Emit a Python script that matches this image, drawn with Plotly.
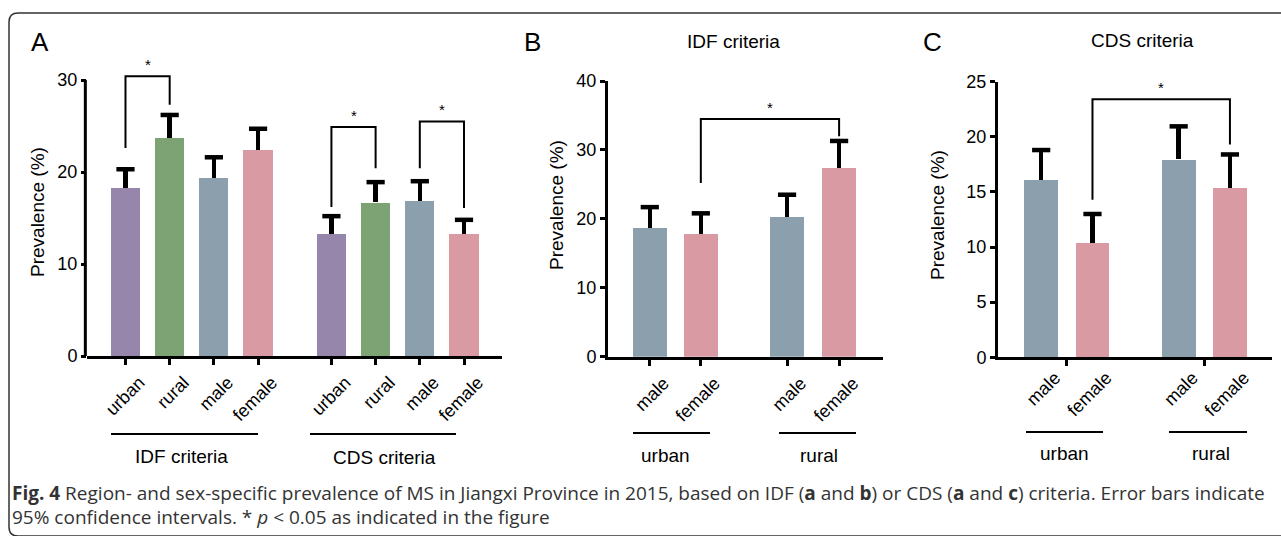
import plotly.graph_objects as go

W, H = 1281, 536

# ---------------- data ----------------
a_categories = ["urban", "rural", "male", "female", "urban", "rural", "male", "female"]
a_positions = [0, 1, 2, 3, 4.66, 5.66, 6.66, 7.66]
a_values = [18.3, 23.7, 19.4, 22.4, 13.3, 16.7, 16.9, 13.3]
a_errors = [2.0, 2.5, 2.2, 2.3, 1.9, 2.2, 2.1, 1.5]
a_groups = ["IDF criteria", "CDS criteria"]

b_categories = ["male", "female", "male", "female"]
b_positions = [0, 1, 2.69, 3.71]
b_values = [18.7, 17.8, 20.3, 27.4]
b_errors = [3.0, 3.0, 3.2, 3.9]

c_categories = ["male", "female", "male", "female"]
c_positions = [0, 1, 2.68, 3.68]
c_values = [16.1, 10.4, 17.95, 15.4]
c_errors = [2.7, 2.6, 3.0, 3.0]
c_group_ticks = [0.5, 3.18]

bc_groups = ["urban", "rural"]

# significance brackets: (left bar index, right bar index, left end y, top y, right end y)
a_brackets = [(0, 1, 22.6, 30.4, 27.3), (4, 5, 16.2, 24.9, 20.4), (6, 7, 20.4, 25.5, 16.1)]
b_brackets = [(1, 3, 25.2, 34.5, 32.0)]
c_brackets = [(1, 3, 14.3, 23.4, 19.3)]

PURPLE = "#9786AC"
GREEN = "#7DA375"
BLUE = "#8BA0AC"
PINK = "#DA9AA4"
a_colors = [PURPLE, GREEN, BLUE, PINK] * 2
bc_colors = [BLUE, PINK] * 2

FONT = "Liberation Sans, Arial, sans-serif"
CAP_FONT = "Open Sans, sans-serif"


def px(x):
    return x / W


def py(y):
    return 1 - y / H


fig = go.Figure()

panels = [
    dict(xa="x", ya="y", pos=a_positions, vals=a_values, errs=a_errors, cols=a_colors, br=a_brackets),
    dict(xa="x2", ya="y2", pos=b_positions, vals=b_values, errs=b_errors, cols=bc_colors, br=b_brackets),
    dict(xa="x3", ya="y3", pos=c_positions, vals=c_values, errs=c_errors, cols=bc_colors, br=c_brackets),
]

annotations = []
shapes = []

for p in panels:
    fig.add_trace(go.Bar(
        x=p["pos"], y=p["vals"], width=0.66,
        marker=dict(color=p["cols"], line=dict(width=0)),
        error_y=dict(type="data", symmetric=False, array=p["errs"],
                     arrayminus=[0] * len(p["errs"]), color="black",
                     thickness=4.5, width=0),
        xaxis=p["xa"], yaxis=p["ya"], showlegend=False, hoverinfo="skip",
    ))
    # caps of the one-sided error bars
    fig.add_trace(go.Scatter(
        x=p["pos"], y=[v + e for v, e in zip(p["vals"], p["errs"])], mode="markers",
        marker=dict(symbol="line-ew", size=13, color="black",
                    line=dict(color="black", width=4.5)),
        xaxis=p["xa"], yaxis=p["ya"], showlegend=False, hoverinfo="skip", cliponaxis=False,
    ))
    for (i0, i1, yl, yt, yr) in p["br"]:
        x0 = p["pos"][i0]
        x1 = p["pos"][i1]
        fig.add_trace(go.Scatter(
            x=[x0, x0, x1, x1], y=[yl, yt, yt, yr], mode="lines",
            line=dict(color="black", width=2), xaxis=p["xa"], yaxis=p["ya"],
            showlegend=False, hoverinfo="skip", cliponaxis=False,
        ))
        annotations.append(dict(x=(x0 + x1) / 2, y=yt, xref=p["xa"], yref=p["ya"],
                                text="*", showarrow=False, yanchor="bottom", yshift=1,
                                font=dict(size=15, family=FONT, color="black")))

axis_common = dict(showgrid=False, zeroline=False, linecolor="black", linewidth=3,
                   ticks="outside", tickwidth=3, tickcolor="black", automargin=False,
                   tickfont=dict(size=18, family=FONT, color="black"))

fig.update_layout(
    template="none",
    width=W, height=H, margin=dict(l=0, r=0, t=0, b=0, pad=0, autoexpand=False),
    autosize=False,
    paper_bgcolor="white", plot_bgcolor="white", bargap=0, showlegend=False,
    font=dict(family=FONT, color="black"),
    xaxis=dict(domain=[px(87), px(502)], range=[-0.871, 8.52], anchor="y",
               showline=True, tickmode="array", tickvals=a_positions, ticktext=a_categories,
               tickangle=-45, ticklen=6, ticklabelshift=14, **axis_common),
    yaxis=dict(domain=[py(356), py(70.8)], range=[0, 31], anchor="x",
               showline=False, tickmode="array", tickvals=[0, 10, 20, 30], ticklen=5,
               **axis_common),
    xaxis2=dict(domain=[px(608), px(883)], range=[-0.819, 4.57], anchor="y2",
                showline=True, tickmode="array", tickvals=b_positions, ticktext=b_categories,
                tickangle=-45, ticklen=6, ticklabelshift=14, **axis_common),
    yaxis2=dict(domain=[py(356.7), py(81)], range=[0, 40], anchor="x2",
                showline=True, tickmode="array", tickvals=[0, 10, 20, 30, 40], ticklen=5,
                **axis_common),
    xaxis3=dict(domain=[px(998), px(1272)], range=[-0.842, 4.50], anchor="y3",
                showline=True, tickmode="array", tickvals=c_positions, ticktext=c_categories,
                tickangle=-45, ticklen=0, ticklabelshift=14,
                minor=dict(tickmode="array", tickvals=c_group_ticks, ticks="outside",
                           ticklen=6, tickwidth=3, tickcolor="black", showgrid=False),
                **axis_common),
    yaxis3=dict(domain=[py(357.3), py(81.7)], range=[0, 25], anchor="x3",
                showline=True, tickmode="array", tickvals=[0, 5, 10, 15, 20, 25], ticklen=5,
                **axis_common),
)

# y-axis line of panel A (stops at 30)
shapes.append(dict(type="line", xref="x domain", yref="y", x0=-0.004, x1=-0.004, y0=-0.15, y1=30,
                   line=dict(color="black", width=3)))

# group underlines and labels
group_lines = [
    (111, 258, 434, 181, 456, a_groups[0]),
    (310, 456, 434, 384, 457, a_groups[1]),
    (633, 710, 433, 665, 455, bc_groups[0]),
    (779, 856, 433, 819, 455, bc_groups[1]),
    (1026, 1103, 432, 1064, 453, bc_groups[0]),
    (1169, 1247, 432, 1211, 453, bc_groups[1]),
]
for (x0, x1, yl, xt, yt, txt) in group_lines:
    shapes.append(dict(type="line", xref="paper", yref="paper", x0=px(x0), x1=px(x1),
                       y0=py(yl), y1=py(yl), line=dict(color="black", width=2)))
    annotations.append(dict(x=px(xt), y=py(yt), xref="paper", yref="paper", text=txt,
                            showarrow=False, xanchor="center", yanchor="middle",
                            font=dict(size=19, family=FONT, color="black")))

# axis titles
for (xt, yt) in [(38, 212), (556, 205), (937, 215)]:
    annotations.append(dict(x=px(xt), y=py(yt), xref="paper", yref="paper",
                            text="Prevalence (%)", textangle=-90, showarrow=False,
                            xanchor="center", yanchor="middle",
                            font=dict(size=19, family=FONT, color="black")))

# panel letters and titles
for (xt, yt, txt) in [(40, 42, "A"), (532, 42, "B"), (932, 42, "C")]:
    annotations.append(dict(x=px(xt), y=py(yt), xref="paper", yref="paper", text=txt,
                            showarrow=False, xanchor="center", yanchor="middle",
                            font=dict(size=26, family=FONT, color="black")))
for (xt, yt, txt) in [(733, 41, "IDF criteria"), (1142, 40, "CDS criteria")]:
    annotations.append(dict(x=px(xt), y=py(yt), xref="paper", yref="paper", text=txt,
                            showarrow=False, xanchor="center", yanchor="middle",
                            font=dict(size=19, family=FONT, color="black")))

# caption
annotations.append(dict(
    x=px(10), y=py(493), xref="paper", yref="paper", xanchor="left", yanchor="middle",
    showarrow=False, font=dict(size=19, family=CAP_FONT, color="#333333"),
    text="<b>Fig. 4</b> Region- and sex-specific prevalence of MS in Jiangxi Province in 2015, "
         "based on IDF (<b>a</b> and <b>b</b>) or CDS (<b>a</b> and <b>c</b>) criteria. "
         "Error bars indicate"))
annotations.append(dict(
    x=px(10), y=py(517), xref="paper", yref="paper", xanchor="left", yanchor="middle",
    showarrow=False, font=dict(size=19, family=CAP_FONT, color="#333333"),
    text="95% confidence intervals. * <i>p</i> &lt; 0.05 as indicated in the figure"))

# rounded frame
frame = (f"M {px(1300)},{py(13)} L {px(18)},{py(13)} Q {px(9)},{py(13)} {px(9)},{py(22)} "
         f"L {px(9)},{py(527)} Q {px(9)},{py(536)} {px(18)},{py(536)} L {px(1300)},{py(536)}")
shapes.append(dict(type="path", xref="paper", yref="paper", path=frame,
                   line=dict(color="#333333", width=1.5)))

fig.update_layout(annotations=annotations, shapes=shapes)

page_fix = (
    "var s='margin:0;padding:0;overflow:hidden;';"
    "document.documentElement.style.cssText=s;document.body.style.cssText=s;"
)
fig.write_html("out.html", config={"displayModeBar": False}, post_script=page_fix)
